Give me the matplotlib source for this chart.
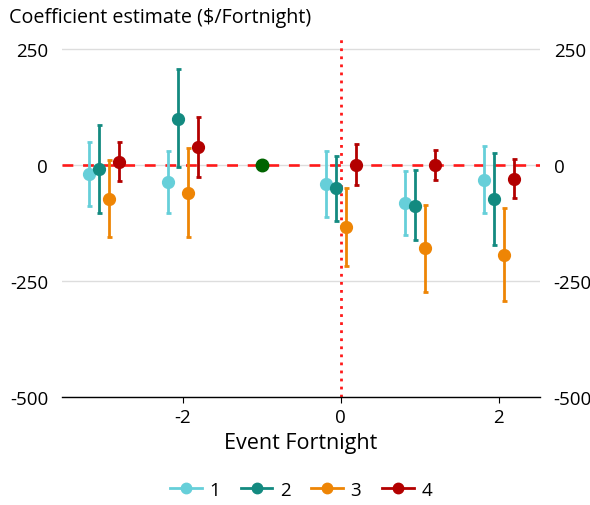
import numpy as np
import matplotlib.pyplot as plt

plt.rcParams['font.family'] = ['Open Sans', 'DejaVu Sans']
plt.rcParams['axes.unicode_minus'] = False

# event fortnights, series 1-4; reference period -1 is pinned at 0
fortnights = [-3, -2, 0, 1, 2]
labels = ['1', '2', '3', '4']
colors = ['#66cfd9', '#138a80', '#ee8505', '#b30000']

est = [
    [-19, -37, -41, -82, -32],
    [-9, 100, -50, -87, -73],
    [-72, -60, -133, -179, -193],
    [7, 39, 1, 0, -29],
]
lo = [
    [-88, -103, -111, -151, -104],
    [-103, -5, -121, -162, -172],
    [-155, -154, -217, -273, -293],
    [-35, -26, -42, -32, -71],
]
hi = [
    [49, 30, 30, -12, 42],
    [86, 207, 20, -11, 26],
    [11, 36, -50, -85, -93],
    [49, 103, 45, 32, 14],
]
ref_x = -1
ref_y = 0

offsets = [-0.19, -0.063, 0.063, 0.19]

fig = plt.figure(figsize=(5.9, 5.06), dpi=100)
ax = fig.add_axes([0.105, 0.2134, 0.81, 0.7075])

ax.axhline(0, color='#ff1a1a', lw=1.9, ls=(0, (4.1, 3.7)), zorder=1)
ax.axvline(0, color='#ff1a1a', lw=2, ls=(0, (1, 1.9)), zorder=1)

for i in range(4):
    x = np.array(fortnights) + offsets[i]
    y = np.array(est[i])
    err = [y - np.array(lo[i]), np.array(hi[i]) - y]
    ax.errorbar(x, y, yerr=err, fmt='o', color=colors[i], ms=8.5,
                elinewidth=2, capsize=1.8, capthick=2, zorder=3)

ax.plot([ref_x], [ref_y], 'o', color='#006400', ms=9, zorder=3)

ax.set_xlim(-3.53, 2.52)
ax.set_ylim(-500, 272)
ax.set_yticks([-500, -250, 0, 250])
ax.set_xticks([-2, 0, 2])
ax.grid(axis='y', color='#dddddd', lw=1)
ax.set_axisbelow(True)
for s in ['top', 'right', 'left']:
    ax.spines[s].set_visible(False)
ax.spines['bottom'].set_linewidth(1)
ax.tick_params(axis='y', length=0, labelsize=13.5, pad=10,
               labelright=True, labelleft=True)
ax.tick_params(axis='x', length=4, labelsize=13.5, pad=4)
ax.set_xlabel('Event Fortnight', fontsize=15.5, labelpad=4)

fig.text(0.015, 0.965, 'Coefficient estimate ($/Fortnight)', fontsize=14.2,
         va='center', ha='left')

handles = [plt.Line2D([], [], color=c, marker='o', ms=7.5, lw=2) for c in colors]
fig.legend(handles, labels, loc='center', bbox_to_anchor=(0.51, 0.03), ncol=4,
           frameon=False, fontsize=13.5, handlelength=1.7, handletextpad=0.4,
           columnspacing=1.1)

fig.savefig('out.png', dpi=100)
